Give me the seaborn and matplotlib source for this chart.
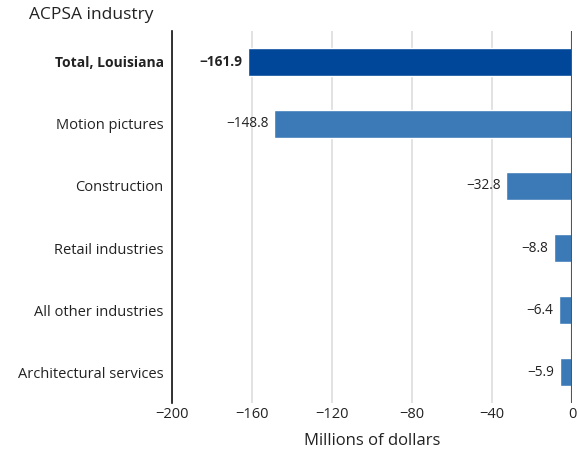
import matplotlib
matplotlib.use('Agg')
import matplotlib.pyplot as plt
import seaborn as sns
import pandas as pd

industries = ['Total, Louisiana', 'Motion pictures', 'Construction',
              'Retail industries', 'All other industries', 'Architectural services']
values = [-161.9, -148.8, -32.8, -8.8, -6.4, -5.9]
value_labels = ['\u2212161.9', '\u2212148.8', '\u221232.8', '\u22128.8', '\u22126.4', '\u22125.9']
x_ticks = [-200, -160, -120, -80, -40, 0]
x_tick_labels = ['\u2212200', '\u2212160', '\u2212120', '\u221280', '\u221240', '0']

sns.set_style('white')
plt.rcParams['font.family'] = ['Open Sans', 'DejaVu Sans']

df = pd.DataFrame({'industry': industries, 'value': values})
colors = ['#00479a'] + ['#3b7ab7'] * 5

fig, ax = plt.subplots(figsize=(5.79, 4.53), dpi=100)
fig.subplots_adjust(left=0.297, right=0.988, top=0.932, bottom=0.11)

sns.barplot(data=df, x='value', y='industry', hue='industry', palette=colors,
            legend=False, width=0.45, ax=ax, saturation=1)

ax.set_xlim(-200, 0)
ax.set_ylim(5.5, -0.5)
ax.set_xticks(x_ticks)
ax.set_xticklabels(x_tick_labels, fontsize=10.5, color='#222222')
ax.tick_params(axis='x', length=0, pad=3)
ax.tick_params(axis='y', length=0, pad=6)
for i, lbl in enumerate(ax.get_yticklabels()):
    lbl.set_fontsize(10.5 if i else 10)
    lbl.set_color('#222222')
    if i == 0:
        lbl.set_fontweight('bold')

ax.grid(axis='x', color='#dddddd', linewidth=1.2)
ax.set_axisbelow(True)
for s in ['top', 'bottom', 'right']:
    ax.spines[s].set_visible(False)
ax.spines['left'].set_color('#111111')
ax.spines['left'].set_linewidth(1.2)
ax.axvline(0, color='#555555', linewidth=1.5, zorder=3)

for i, (v, t) in enumerate(zip(values, value_labels)):
    ax.text(v - 3, i, t, ha='right', va='center', fontsize=9.8, color='#222222',
            fontweight='bold' if i == 0 else 'normal')

ax.set_xlabel('Millions of dollars', fontsize=12, color='#222222', labelpad=8)
ax.set_ylabel('')
fig.text(0.05, 0.967, 'ACPSA industry', fontsize=12.5, color='#222222', va='center')

fig.savefig('out.png', dpi=100)
